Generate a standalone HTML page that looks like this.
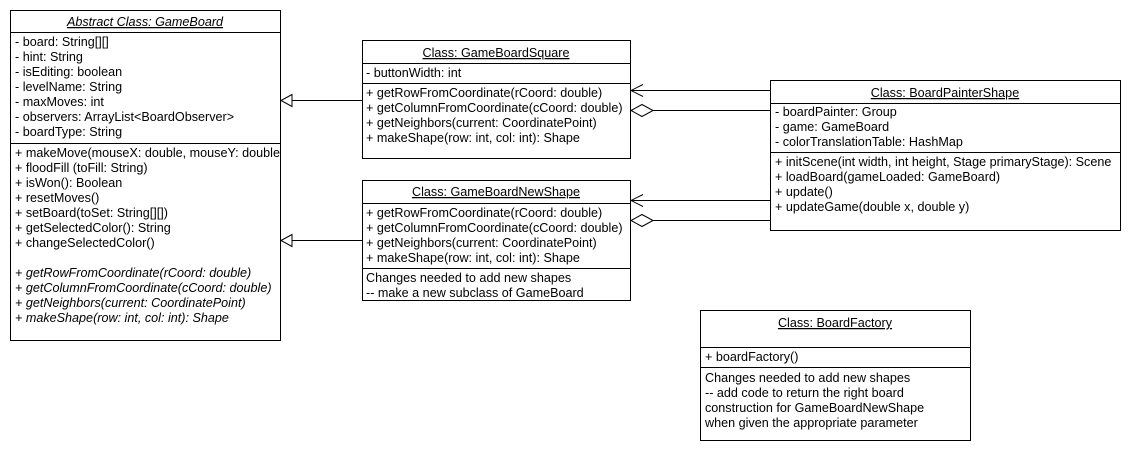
<!DOCTYPE html>
<html><head><meta charset="utf-8"><style>
html,body{margin:0;padding:0;background:#fff;}
svg text{font-family:"Liberation Sans","DejaVu Sans",sans-serif;font-size:12.6px;fill:#000;}
.t{text-decoration:underline;}
</style></head><body>
<svg width="1130" height="450" xmlns="http://www.w3.org/2000/svg">
<g fill="#fff" stroke="#000" stroke-width="1">
<rect x="10.5" y="10.5" width="270" height="330"/>
<rect x="362.5" y="40.5" width="268" height="118"/>
<rect x="362.5" y="180.5" width="268" height="120"/>
<rect x="770.5" y="80.5" width="350" height="150"/>
<rect x="700.5" y="310.5" width="270" height="130"/>
</g>
<g stroke="#000" stroke-width="1" fill="none">
<line x1="10" y1="32.5" x2="280" y2="32.5"/>
<line x1="10" y1="143.5" x2="280" y2="143.5"/>
<line x1="362" y1="63.5" x2="630" y2="63.5"/>
<line x1="362" y1="83.5" x2="630" y2="83.5"/>
<line x1="362" y1="203.5" x2="630" y2="203.5"/>
<line x1="362" y1="268.5" x2="630" y2="268.5"/>
<line x1="770" y1="103.5" x2="1120" y2="103.5"/>
<line x1="770" y1="152.5" x2="1120" y2="152.5"/>
<line x1="700" y1="347.5" x2="970" y2="347.5"/>
<line x1="700" y1="367.5" x2="970" y2="367.5"/>
<line x1="292" y1="100.5" x2="362" y2="100.5"/>
<polygon points="281,100.5 292,94.5 292,106.5" fill="#fff"/>
<line x1="292" y1="240.5" x2="362" y2="240.5"/>
<polygon points="281,240.5 292,234.5 292,246.5" fill="#fff"/>
<line x1="631" y1="90.5" x2="770" y2="90.5"/>
<polyline points="643,84.5 631,90.5 643,96.5"/>
<line x1="653" y1="110.5" x2="770" y2="110.5"/>
<polygon points="631,110.5 642,104.5 653,110.5 642,116.5" fill="#fff"/>
<line x1="631" y1="200.5" x2="770" y2="200.5"/>
<polyline points="643,194.5 631,200.5 643,206.5"/>
<line x1="653" y1="220.5" x2="770" y2="220.5"/>
<polygon points="631,220.5 642,214.5 653,220.5 642,226.5" fill="#fff"/>
</g>
<text x="145" y="26" text-anchor="middle" class="t" font-style="italic">Abstract Class: GameBoard</text>
<text x="15" y="46">- board: String[][]</text>
<text x="15" y="61">- hint: String</text>
<text x="15" y="76">- isEditing: boolean</text>
<text x="15" y="91">- levelName: String</text>
<text x="15" y="106">- maxMoves: int</text>
<text x="15" y="121">- observers: ArrayList&lt;BoardObserver&gt;</text>
<text x="15" y="136">- boardType: String</text>
<text x="15" y="157">+ makeMove(mouseX: double, mouseY: double</text>
<text x="15" y="172">+ floodFill (toFill: String)</text>
<text x="15" y="187">+ isWon(): Boolean</text>
<text x="15" y="202">+ resetMoves()</text>
<text x="15" y="217">+ setBoard(toSet: String[][])</text>
<text x="15" y="232">+ getSelectedColor(): String</text>
<text x="15" y="247">+ changeSelectedColor()</text>
<text x="15" y="277" font-style="italic">+ getRowFromCoordinate(rCoord: double)</text>
<text x="15" y="292" font-style="italic">+ getColumnFromCoordinate(cCoord: double)</text>
<text x="15" y="307" font-style="italic">+ getNeighbors(current: CoordinatePoint)</text>
<text x="15" y="322" font-style="italic">+ makeShape(row: int, col: int): Shape</text>

<text x="496" y="57" text-anchor="middle" class="t">Class: GameBoardSquare</text>
<text x="366" y="77">- buttonWidth: int</text>
<text x="366" y="97">+ getRowFromCoordinate(rCoord: double)</text>
<text x="366" y="112">+ getColumnFromCoordinate(cCoord: double)</text>
<text x="366" y="127">+ getNeighbors(current: CoordinatePoint)</text>
<text x="366" y="142">+ makeShape(row: int, col: int): Shape</text>

<text x="496" y="196" text-anchor="middle" class="t">Class: GameBoardNewShape</text>
<text x="366" y="217">+ getRowFromCoordinate(rCoord: double)</text>
<text x="366" y="232">+ getColumnFromCoordinate(cCoord: double)</text>
<text x="366" y="247">+ getNeighbors(current: CoordinatePoint)</text>
<text x="366" y="262">+ makeShape(row: int, col: int): Shape</text>
<text x="366" y="282">Changes needed to add new shapes</text>
<text x="366" y="297">-- make a new subclass of GameBoard</text>

<text x="945" y="97" text-anchor="middle" class="t">Class: BoardPainterShape</text>
<text x="775" y="116">- boardPainter: Group</text>
<text x="775" y="131">- game: GameBoard</text>
<text x="775" y="146">- colorTranslationTable: HashMap</text>
<text x="775" y="166">+ initScene(int width, int height, Stage primaryStage): Scene</text>
<text x="775" y="181">+ loadBoard(gameLoaded: GameBoard)</text>
<text x="775" y="196">+ update()</text>
<text x="775" y="211">+ updateGame(double x, double y)</text>

<text x="835" y="327" text-anchor="middle" class="t">Class: BoardFactory</text>
<text x="705" y="361">+ boardFactory()</text>
<text x="705" y="382">Changes needed to add new shapes</text>
<text x="705" y="397">-- add code to return the right board</text>
<text x="705" y="412">construction for GameBoardNewShape</text>
<text x="705" y="427">when given the appropriate parameter</text>
</svg>
</body></html>
